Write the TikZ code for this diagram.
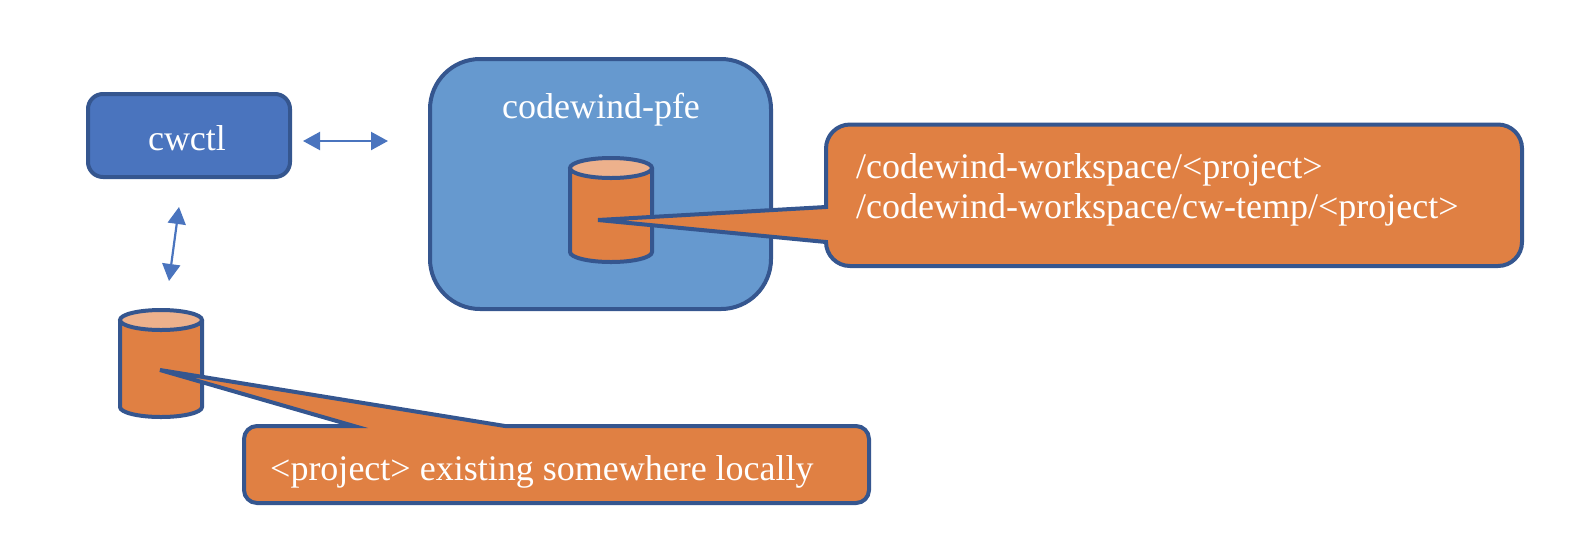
\documentclass[tikz,border=0pt]{standalone}
\usepackage{fontspec}
\setmainfont{Liberation Serif}
\usetikzlibrary{arrows.meta}
\definecolor{edgeblue}{HTML}{35568F}
\definecolor{boxblue}{HTML}{4A74BE}
\definecolor{panelblue}{HTML}{6699CF}
\definecolor{orangefill}{HTML}{E08043}
\definecolor{orangetop}{HTML}{EDB18C}
\tikzset{
  shapeline/.style={draw=edgeblue,line width=4pt,line join=miter},
  label text/.style={text=white,inner sep=0pt,anchor=base,font=\fontsize{36}{43}\selectfont},
  left text/.style={label text,anchor=base west},
  duplex/.style={draw=boxblue,line width=2.2pt,{Triangle[length=17pt,width=18pt]}-{Triangle[length=17pt,width=18pt]}},
}
\newcommand{\drumshape}[5]{% left right top bottom ry
  \fill[orangefill] (#1,#3+#5) -- (#1,#4-#5) arc[start angle=180,end angle=0,x radius={(#2-#1)/2},y radius=#5] -- (#2,#3+#5) -- cycle;
  \draw[shapeline] (#1,#3+#5) -- (#1,#4-#5) arc[start angle=180,end angle=0,x radius={(#2-#1)/2},y radius=#5] -- (#2,#3+#5);
  \draw[shapeline,fill=orangetop] ({(#1+#2)/2},#3+#5) ellipse[x radius={(#2-#1)/2},y radius=#5];
}
\begin{document}
\begin{tikzpicture}[x=1pt,y=-1pt]
\useasboundingbox (0,0) rectangle (1586,550);
% panels
\node[shapeline,fill=panelblue,rounded corners=50pt,minimum width=341pt,minimum height=250pt,inner sep=0pt] (pfe) at (600.5,184) {};
\node[label text] (pfelabel) at (601,118) {codewind-pfe};
\node[shapeline,fill=boxblue,rounded corners=15pt,minimum width=202pt,minimum height=83pt,inner sep=0pt] (cwctl) at (189,135.5) {};
\node[label text] (cwctllabel) at (187,150) {cwctl};
% connectors
\coordinate (hleft) at (303,141);
\coordinate (hright) at (388,141);
\coordinate (vtop) at (179,207);
\coordinate (vbottom) at (169,281);
\draw[duplex] (hleft) -- (hright);
\draw[duplex] (vtop) -- (vbottom);
% drums
\drumshape{570}{652}{158}{262}{10}
\drumshape{120}{202}{310}{417}{10}
% callouts
\draw[shapeline,fill=orangefill]
  (598,220) -- (826,207) [rounded corners=24pt] -- (826,124.5) -- (1522,124.5) -- (1522,266) -- (826,266) [sharp corners] -- (826,242) -- cycle;
\node[left text] (pathone) at (856,178) {/codewind-workspace/<project>};
\node[left text] (pathtwo) at (856,218) {/codewind-workspace/cw-temp/<project>};
\draw[shapeline,fill=orangefill]
  (160,370) -- (354,426) [rounded corners=13pt] -- (244,426) -- (244,503) -- (869,503) -- (869,426) [sharp corners] -- (505,426) -- cycle;
\node[left text] (localtext) at (270,480) {<project> existing somewhere locally};
\end{tikzpicture}
\end{document}
